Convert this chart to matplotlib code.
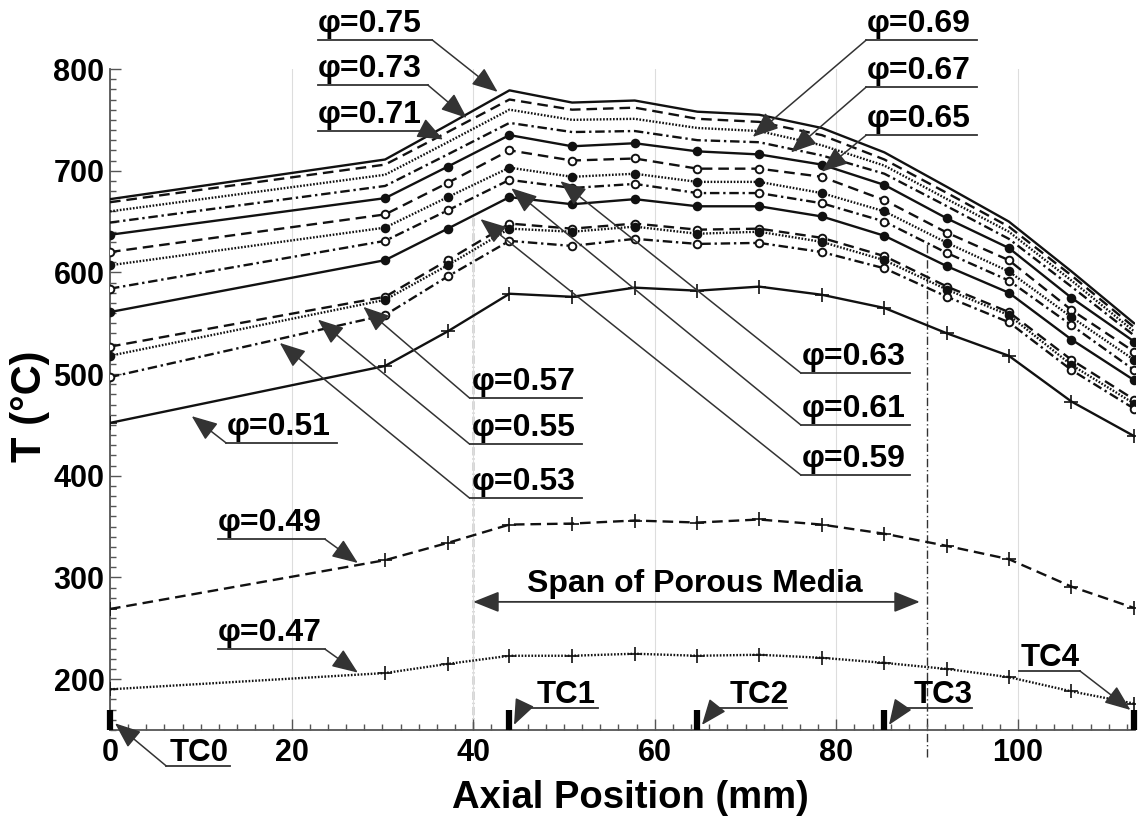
import numpy as np
import matplotlib
matplotlib.use("Agg")
import matplotlib.pyplot as plt
from matplotlib.ticker import MultipleLocator
from matplotlib.lines import Line2D

plt.rcParams['font.family'] = ['Liberation Sans', 'DejaVu Sans']
plt.rcParams['font.weight'] = 'bold'

# ---------------------------------------------------------------- data
# axial positions of the temperature readings (mm)
positions_mm = [0, 30.3, 37.2, 44.0, 50.9, 57.8, 64.7, 71.5, 78.4, 85.3, 92.2, 99.0, 105.9, 112.8]

# centreline temperature (deg C) for each equivalence ratio
temp_075 = [672, 711, 745, 779, 767, 769, 758, 755, 742, 718, 684, 650, 601, 550]
temp_073 = [669, 706, 738, 770, 760, 762, 751, 748, 735, 711, 678, 645, 597, 546]
temp_071 = [660, 696, 728, 760, 750, 751, 742, 739, 725, 705, 672, 640, 592, 542]
temp_069 = [649, 685, 716, 747, 738, 739, 730, 728, 715, 697, 665, 633, 586, 538]
temp_067 = [637, 673, 704, 735, 724, 727, 719, 716, 706, 686, 653, 624, 575, 532]
temp_065 = [620, 657, 688, 720, 710, 712, 702, 702, 694, 671, 639, 612, 563, 522]
temp_063 = [607, 644, 674, 703, 694, 697, 689, 689, 678, 660, 629, 601, 556, 514]
temp_061 = [584, 631, 661, 691, 683, 687, 678, 678, 668, 650, 619, 592, 548, 504]
temp_059 = [561, 612, 643, 674, 667, 672, 665, 665, 655, 636, 606, 580, 534, 494]
temp_057 = [527, 576, 612, 648, 643, 648, 642, 643, 634, 616, 586, 561, 514, 475]
temp_055 = [518, 573, 607, 643, 640, 645, 638, 640, 630, 612, 583, 558, 509, 471]
temp_053 = [497, 558, 596, 631, 626, 633, 628, 629, 620, 604, 576, 551, 504, 466]
temp_051 = [452, 508, 542, 579, 576, 585, 582, 586, 578, 565, 540, 518, 473, 439]
temp_049 = [269, 317, 334, 352, 353, 356, 354, 357, 352, 343, 331, 318, 291, 270]
temp_047 = [190, 206, 215, 223, 223, 225, 223, 224, 221, 216, 210, 202, 188, 176]

phi_values = [0.75, 0.73, 0.71, 0.69, 0.67, 0.65, 0.63, 0.61,
              0.59, 0.57, 0.55, 0.53, 0.51, 0.49, 0.47]
series = [temp_075, temp_073, temp_071, temp_069, temp_067, temp_065, temp_063,
          temp_061, temp_059, temp_057, temp_055, temp_053, temp_051, temp_049,
          temp_047]

# thermocouple locations (mm) and porous-media extent (mm)
tc_names = ['TC0', 'TC1', 'TC2', 'TC3', 'TC4']
tc_pos = [0, 44.0, 64.7, 85.3, 112.8]
porous_start, porous_end = 40, 90

# ---------------------------------------------------------------- styles
INK = '#111111'
LEAD = '#333333'
dash_cycle = ['-', (0, (4.5, 2.5)), (0, (0.7, 0.7)), (0, (4, 1.6, 1, 1.6))]

fig = plt.figure(figsize=(11.4, 8.17), dpi=100)
ax = fig.add_axes([110 / 1140, 1 - 730 / 817, 1025 / 1140, 661 / 817])
ax.set_xlim(0, 112.9)
ax.set_ylim(150, 800)

for spine in ('top', 'right'):
    ax.spines[spine].set_visible(False)
for spine in ('left', 'bottom'):
    ax.spines[spine].set_color('#555555')
    ax.spines[spine].set_linewidth(1.3)

ax.xaxis.set_major_locator(MultipleLocator(20))
ax.xaxis.set_minor_locator(MultipleLocator(2))
ax.yaxis.set_major_locator(MultipleLocator(100))
ax.yaxis.set_minor_locator(MultipleLocator(10))
ax.set_yticks([200, 300, 400, 500, 600, 700, 800])
ax.tick_params(which='both', direction='in', color='#555555', width=1)
ax.tick_params(which='major', length=8, labelsize=22)
ax.tick_params(axis='x', which='major', pad=6)
ax.tick_params(axis='y', which='major', pad=4)
ax.tick_params(which='minor', length=4)
for lab in ax.get_xticklabels() + ax.get_yticklabels():
    lab.set_fontweight('bold')

ax.grid(axis='x', which='major', color='#dddddd', lw=0.8, zorder=0)

# porous media boundaries
ax.plot([porous_start, porous_start], [150, 655], color=LEAD, lw=1,
        ls=(0, (6, 2, 1, 2)), zorder=1, clip_on=False)
ax.plot([porous_end, porous_end], [123, 630], color=LEAD, lw=1,
        ls=(0, (6, 2, 1, 2)), zorder=1, clip_on=False)

# temperature profiles
for i, (phi, temps) in enumerate(zip(phi_values, series)):
    ls = dash_cycle[i % 4]
    kw = dict(color=INK, lw=1.7, ls=ls, zorder=3)
    if phi >= 0.69:
        ax.plot(positions_mm, temps, **kw)
    elif phi >= 0.53:
        face = INK if i % 2 == 0 else 'white'
        ax.plot(positions_mm, temps, marker='o', ms=5.5, mew=1.4,
                mec=INK, mfc=face, **kw)
    else:
        ax.plot(positions_mm, temps, marker='+', ms=10, mew=1.2, **kw)

# ---------------------------------------------------------------- labels
def curve_at(phi, x):
    return float(np.interp(x, positions_mm, series[phi_values.index(phi)]))


def underlined(text, tx, ty, x0, x1, uy, start, tip, size):
    ax.text(tx, ty, text, fontsize=size, fontweight='bold', ha='left',
            va='baseline', color='black', zorder=6, clip_on=False)
    ax.add_line(Line2D([x0, x1], [uy, uy], color=LEAD, lw=1.3,
                       zorder=5, clip_on=False))
    sx = x0 if start == 'left' else x1
    ax.annotate('', xy=tip, xytext=(sx, uy), annotation_clip=False,
                arrowprops=dict(arrowstyle='-|>,head_length=0.8,head_width=0.32',
                                color=LEAD, lw=1.1, mutation_scale=20,
                                shrinkA=0, shrinkB=0), zorder=5)


# (phi, text x, underline x0, x1, underline T, leader side, tip x, tip offset)
phi_labels = [
    (0.75, 22.9, 22.9, 35.5, 828.5, 'right', 42.7, 5),
    (0.73, 22.9, 22.9, 35.0, 784.3, 'right', 39.3, 4),
    (0.71, 22.9, 22.9, 34.9, 739.0, 'right', 36.7, 5),
    (0.69, 83.3, 83.3, 95.5, 828.5, 'left', 70.8, 5),
    (0.67, 83.3, 83.3, 95.5, 782.3, 'left', 75.0, 7),
    (0.65, 83.3, 83.3, 95.5, 735.0, 'left', 78.4, 5),
    (0.63, 76.2, 76.1, 88.1, 501.0, 'left', 49.6, -6),
    (0.61, 76.2, 76.1, 88.1, 449.9, 'left', 44.2, -8),
    (0.59, 76.2, 76.1, 88.1, 400.7, 'left', 40.8, -7),
    (0.57, 39.8, 39.6, 52.0, 476.5, 'left', 27.9, -6),
    (0.55, 39.8, 39.6, 52.0, 431.2, 'left', 22.9, -6),
    (0.53, 39.8, 39.6, 52.0, 378.1, 'left', 18.7, -4),
    (0.51, 12.9, 12.8, 25.0, 432.2, 'left', 9.0, -10),
    (0.49, 11.9, 11.9, 23.7, 337.5, 'right', 27.3, 2),
    (0.47, 11.9, 11.9, 23.7, 229.4, 'right', 27.3, 2),
]
for phi, tx, x0, x1, uy, side, tipx, dy in phi_labels:
    underlined(f'φ={phi:.2f}', tx, uy + 8, x0, x1, uy, side,
               (tipx, curve_at(phi, tipx) + dy), 23)

# thermocouple markers and tags
for pos in tc_pos:
    ax.plot([pos, pos], [150, 170], color='black', lw=4.5,
            solid_capstyle='butt', zorder=6, clip_on=False)

# (text x, underline x0, x1, underline T, leader side, tip dx, tip T)
tc_labels = [
    (6.6, 6.2, 13.2, 114.6, 'left', 0.55, 156.6),
    (47.0, 45.4, 53.7, 171.9, 'left', 0.5, 155.0),
    (68.3, 66.7, 74.6, 171.9, 'left', 0.5, 155.0),
    (88.5, 87.1, 95.0, 171.9, 'left', 0.5, 155.0),
    (100.3, 100.1, 106.8, 208.3, 'right', -0.4, 169.7),
]
for name, pos, (tx, x0, x1, uy, side, dx, ty) in zip(tc_names, tc_pos, tc_labels):
    underlined(name, tx, uy + 5, x0, x1, uy, side, (pos + dx, ty), 22.5)

# span of porous media
ax.annotate('', xy=(porous_start, 276), xytext=(89.2, 276),
            arrowprops=dict(arrowstyle='<|-|>,head_length=0.8,head_width=0.32',
                            color=LEAD, lw=1.3, mutation_scale=20,
                            shrinkA=0, shrinkB=0), zorder=5)
ax.text(64.4, 286, 'Span of Porous Media', fontsize=23, fontweight='bold',
        ha='center', va='baseline', zorder=6)

# axis titles
fig.text(30 / 1140, 1 - 406 / 817, 'T (°C)', rotation=90, fontsize=30,
         fontweight='bold', ha='center', va='center')
fig.text(630 / 1140, 1 - 808 / 817, 'Axial Position (mm)', fontsize=27.5,
         fontweight='bold', ha='center', va='baseline')

fig.savefig('out.png', dpi=100)
